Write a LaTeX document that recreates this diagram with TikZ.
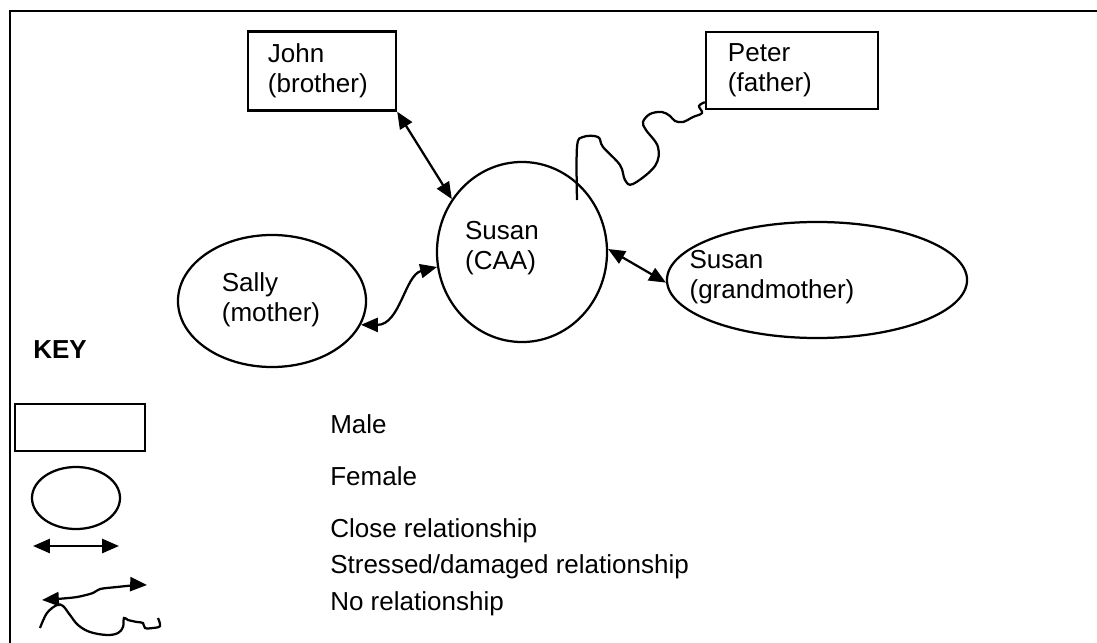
\documentclass[tikz,border=0pt]{standalone}
\usepackage{fontspec}
\setmainfont{Liberation Sans}
\usetikzlibrary{arrows.meta,shapes.geometric}
\newcommand{\diagfont}{\fontsize{18.5}{21.3}\selectfont}

\begin{document}
\begin{tikzpicture}[x=0.025cm,y=-0.025cm,
  every node/.style={font=\diagfont},
  malebox/.style={draw,line width=1.7pt,rectangle,align=left,inner ysep=0pt},
  femalebox/.style={draw,line width=1.6pt,ellipse,inner sep=0pt},
  txt/.style={inner sep=0pt,align=left},
  rel/.style={line width=1.6pt,{Triangle[length=12pt,width=10pt]}-{Triangle[length=12pt,width=10pt]}},
  norel/.style={line width=1.6pt}]
\useasboundingbox (0,0) rectangle (1097,643);
\draw[line width=1.2pt] (10,643) -- (10,11) -- (1097,11);
\node[malebox,inner xsep=0.5cm,text width=2.7cm,minimum height=1.975cm] (john) at (322,71) {John\\(brother)};
\node[malebox,inner xsep=0.55cm,text width=3.2cm,minimum height=1.925cm] (peter) at (792,70.5) {Peter\\(father)};
\node[femalebox,minimum width=4.25cm,minimum height=4.5cm] (susan) at (522,252) {};
\node[txt] (susantxt) at (502,248) {Susan\\(CAA)};
\node[femalebox,minimum width=4.7cm,minimum height=3.3cm] (sally) at (272,301) {};
\node[txt] (sallytxt) at (271,300) {Sally\\(mother)};
\node[femalebox,minimum width=7.5cm,minimum height=2.9cm] (grandma) at (817,280) {};
\node[txt] (grandmatxt) at (772,277) {Susan\\(grandmother)};
\draw[rel] (john.south east) -- (susan.143);
\draw[rel] (susan.2) -- (grandma.181);
\draw[rel] (sally.-15) .. controls (400,325) and (405,275) .. (susan.190);
\coordinate (wigstart) at (577,200);
\draw[norel] plot[smooth,tension=0.6] coordinates {(wigstart) (577,147) (583,137) (598,137) (603,147) (620,165) (625,180) (633,184) (655,166) (658,147) (646,130) (643,122) (650,114) (662,112) (670,116) (675,121) (683,122) (693,117) (702,113) (699,106) ([yshift=0.2cm]peter.south west)};
\node[txt,anchor=base west,font=\diagfont\bfseries] (keyhead) at (33,358) {KEY};
\node[draw,line width=1.7pt,rectangle,minimum width=3.25cm,minimum height=1.175cm] (keymale) at (80,427.5) {};
\node[femalebox,minimum width=2.2cm,minimum height=1.55cm] (keyfemale) at (76,498) {};
\coordinate (closeA) at (33,546);
\coordinate (closeB) at (119,546);
\draw[rel] (closeA) -- (closeB);
\draw[rel] plot[smooth] coordinates {(42,600) (57,599) (77,597) (93,593) (100,589) (117,587) (137,585) (147,585)};
\draw[norel] plot[smooth,tension=0.6] coordinates {(40,628) (47,613) (57,605) (63,606) (70,615) (78,625) (90,632) (107,635) (118,633) (123,627) (124,618) (128,620) (137,622) (143,623) (145,628) (153,628) (160,626) (158,618)};
\node[txt,anchor=base west] (malelbl) at (330,433) {Male};
\node[txt,anchor=base west] (femalelbl) at (330,485) {Female};
\node[txt,anchor=base west] (closelbl) at (330,537) {Close relationship};
\node[txt,anchor=base west] (stresslbl) at (330,573) {Stressed/damaged relationship};
\node[txt,anchor=base west] (norellbl) at (330,610) {No relationship};
\end{tikzpicture}
\end{document}
